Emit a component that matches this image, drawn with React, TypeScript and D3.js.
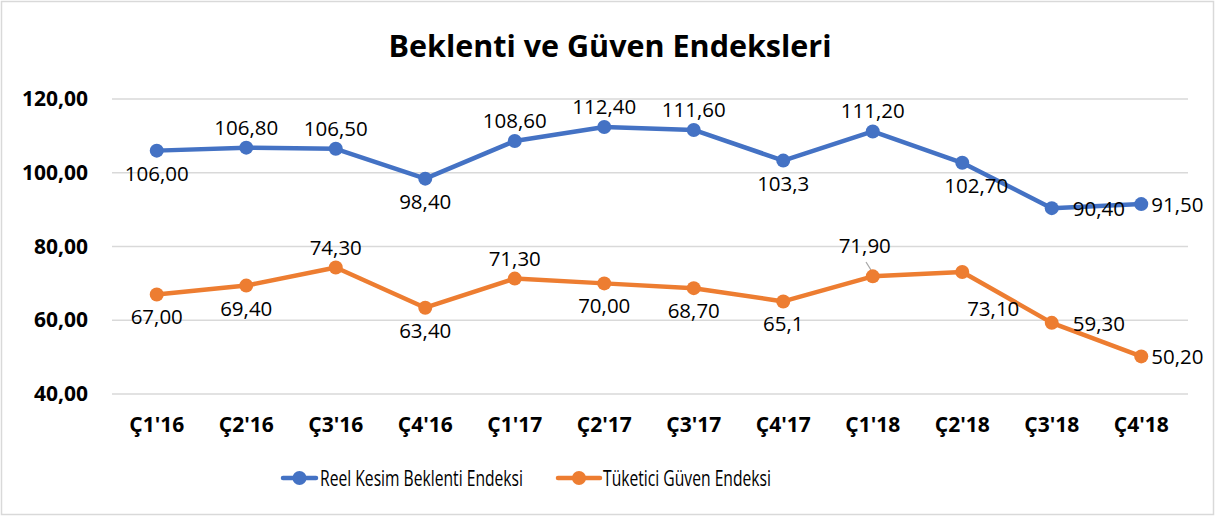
import React from "react";
import { scaleBand, scaleLinear, line } from "d3";

const categories = ["Ç1'16", "Ç2'16", "Ç3'16", "Ç4'16", "Ç1'17", "Ç2'17", "Ç3'17", "Ç4'17", "Ç1'18", "Ç2'18", "Ç3'18", "Ç4'18"];
const reelValues = [106.0, 106.8, 106.5, 98.4, 108.6, 112.4, 111.6, 103.3, 111.2, 102.7, 90.4, 91.5];
const reelLabels = ["106,00", "106,80", "106,50", "98,40", "108,60", "112,40", "111,60", "103,3", "111,20", "102,70", "90,40", "91,50"];
const tuketiciValues = [67.0, 69.4, 74.3, 63.4, 71.3, 70.0, 68.7, 65.1, 71.9, 73.1, 59.3, 50.2];
const tuketiciLabels = ["67,00", "69,40", "74,30", "63,40", "71,30", "70,00", "68,70", "65,1", "71,90", "73,10", "59,30", "50,20"];
const yTicks = [40, 60, 80, 100, 120];

const BLUE = "#4472C4";
const ORANGE = "#ED7D31";
const FONT = "'Open Sans', sans-serif";

// where each data label sits relative to its point
const reelPlace = ["below", "above", "above", "below", "above", "above", "above", "below", "above", "belowRight", "right2", "right"];
const tukPlace = ["below", "below", "above", "below", "above", "below", "below", "below", "leaderUp", "leaderDown", "right2", "right"];

const offsets: Record<string, { dx: number; dy: number; anchor: string }> = {
  above: { dx: 0, dy: -13, anchor: "middle" },
  below: { dx: 0, dy: 30, anchor: "middle" },
  belowRight: { dx: 14, dy: 30, anchor: "middle" },
  right: { dx: 10, dy: 8, anchor: "start" },
  right2: { dx: 21, dy: 8, anchor: "start" },
  leaderUp: { dx: -8, dy: -23, anchor: "middle" },
  leaderDown: { dx: 31, dy: 44, anchor: "middle" },
};

const App = () => {
  const x = scaleBand().domain(categories).range([112, 1186]);
  const cx = (c: string) => (x(c) as number) + x.bandwidth() / 2;
  const y = scaleLinear().domain([40, 120]).range([394, 99]);

  const series = [
    { name: "Reel Kesim Beklenti Endeksi", values: reelValues, labels: reelLabels, place: reelPlace, color: BLUE },
    { name: "Tüketici Güven Endeksi", values: tuketiciValues, labels: tuketiciLabels, place: tukPlace, color: ORANGE },
  ];

  const path = line<number>()
    .x((d, i) => cx(categories[i]))
    .y((d) => y(d));

  const legendPos = [
    { lx1: 283, lx2: 316, tx: 320, tw: 203 },
    { lx1: 558, lx2: 600, tx: 603, tw: 168 },
  ];

  return (
    <svg width={1215} height={516} style={{ position: "absolute", left: 0, top: 0 }} fontFamily={FONT}>
      <rect x={0} y={0} width={1215} height={516} fill="#fff" />
      <rect x={1.5} y={1.5} width={1212} height={513} fill="none" stroke="#d9d9d9" strokeWidth={1.5} />

      <text x={610} y={57} textAnchor="middle" fontSize={30.5} fontWeight="bold" fill="#000">
        Beklenti ve Güven Endeksleri
      </text>

      {yTicks.map((t) => (
        <g key={t}>
          <line x1={112} x2={1188} y1={y(t)} y2={y(t)} stroke="#d9d9d9" strokeWidth={1.5} />
          <text x={88} y={y(t) + 7} textAnchor="end" fontSize={21} fontWeight="bold" fill="#000">
            {t.toFixed(2).replace(".", ",")}
          </text>
        </g>
      ))}

      {categories.map((c) => (
        <text key={c} x={cx(c)} y={432} textAnchor="middle" fontSize={21} fontWeight="bold" fill="#000">
          {c}
        </text>
      ))}

      {/* leader lines for moved labels */}
      <line x1={866} y1={262} x2={871} y2={270} stroke="#a6a6a6" strokeWidth={1.2} />
      <line x1={962} y1={272} x2={993} y2={289} stroke="#a6a6a6" strokeWidth={1.2} />

      {series.map((s) => (
        <g key={s.name}>
          <path d={path(s.values) || ""} fill="none" stroke={s.color} strokeWidth={4.5} strokeLinejoin="round" />
          {s.values.map((v, i) => (
            <circle key={i} cx={cx(categories[i])} cy={y(v)} r={7} fill={s.color} />
          ))}
        </g>
      ))}

      {series.map((s) =>
        s.values.map((v, i) => {
          const o = offsets[s.place[i]];
          return (
            <text key={s.name + i} x={cx(categories[i]) + o.dx} y={y(v) + o.dy} textAnchor={o.anchor} fontSize={20.5} fill="#000">
              {s.labels[i]}
            </text>
          );
        })
      )}

      {series.map((s, i) => {
        const p = legendPos[i];
        return (
          <g key={s.name}>
            <line x1={p.lx1} x2={p.lx2} y1={478} y2={478} stroke={s.color} strokeWidth={4.5} strokeLinecap="round" />
            <circle cx={(p.lx1 + p.lx2) / 2} cy={478} r={7} fill={s.color} />
            <text x={p.tx} y={486} fontSize={21} fill="#000" textLength={p.tw} lengthAdjust="spacingAndGlyphs">
              {s.name}
            </text>
          </g>
        );
      })}
    </svg>
  );
};

export default App;
